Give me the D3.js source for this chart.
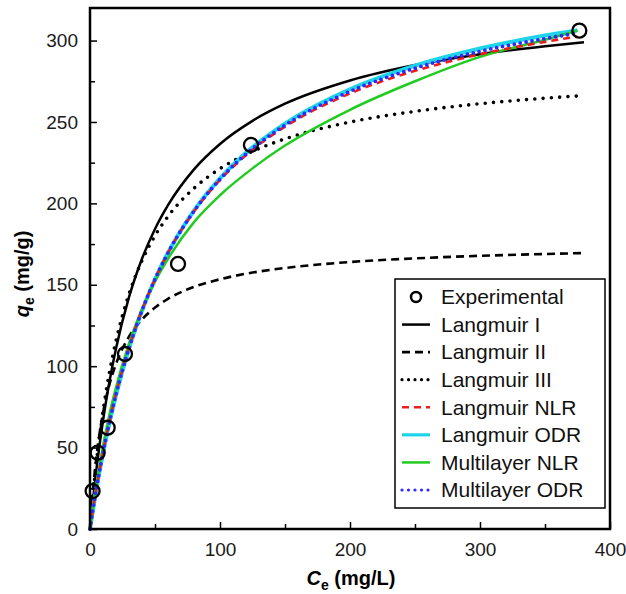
<!DOCTYPE html>
<html>
<head>
<meta charset="utf-8">
<script src="https://cdn.jsdelivr.net/npm/d3@7"></script>
<style>
  html, body { margin: 0; padding: 0; background: #fff; }
  svg { display: block; font-family: "Liberation Sans", Arial, sans-serif; }
</style>
</head>
<body>
<svg id="chart" width="626" height="594"></svg>
<script>
// Experimental equilibrium data
const expCe = [2.0, 5.9, 13.6, 26.9, 67.7, 123.8, 376.4];
const expQe = [23.3, 46.9, 62.2, 107.5, 162.8, 235.9, 306.1];

// Concentration grids at which each fitted isotherm is tabulated
const ceLinear = [0, 2, 5, 10, 15, 20, 30, 40, 50, 60, 80, 100, 125, 150, 200, 250, 300, 350, 380];
const ceFitted = [0, 2, 5, 10, 15, 20, 30, 40, 50, 60, 80, 100, 125, 150, 200, 250, 300, 350, 375];

// Linearised Langmuir fits (tabulated on ceLinear)
const langmuirI   = [0, 15.9, 37.1, 66.6, 90.8, 110.9, 142.4, 166.0, 184.3, 198.9, 220.9, 236.5, 250.7, 261.2, 275.5, 285.0, 291.6, 296.5, 299.0];
const langmuirII  = [0, 21.0, 44.7, 71.2, 88.9, 101.4, 118.1, 128.7, 136.0, 141.4, 148.7, 153.4, 157.5, 160.3, 164.0, 166.2, 167.8, 168.9, 169.5];
const langmuirIII = [0, 18.1, 41.4, 72.3, 96.4, 115.5, 144.3, 164.8, 180.1, 192.0, 209.3, 221.3, 231.9, 239.6, 249.9, 256.5, 261.2, 264.6, 266.2];

// Non-linear / orthogonal distance regression fits (tabulated on ceFitted)
const langmuirNLR   = [0, 10.5, 25.1, 46.9, 66.0, 82.9, 111.3, 134.4, 153.5, 169.6, 195.1, 214.4, 232.9, 247.1, 267.5, 281.4, 291.6, 299.2, 302.5];
const langmuirODR   = [0, 10.3, 24.8, 46.4, 65.4, 82.2, 110.8, 134.0, 153.4, 169.7, 195.6, 215.4, 234.4, 249.0, 270.1, 284.6, 295.1, 303.1, 306.4];
const multilayerNLR = [0, 11.5, 27.5, 51.0, 70.5, 87.0, 114.0, 135.0, 152.0, 166.0, 188.5, 205.0, 221.5, 235.5, 257.5, 275.0, 290.0, 300.5, 306.0];
const multilayerODR = [0, 10.5, 25.0, 46.7, 65.8, 82.6, 111.0, 134.2, 153.4, 169.6, 195.3, 214.8, 233.6, 248.0, 268.8, 283.0, 293.4, 301.2, 304.6];

// Axis ticks
const xTicks = [0, 100, 200, 300, 400];
const xMinorTicks = [50, 150, 250, 350];
const yTicks = [0, 50, 100, 150, 200, 250, 300];
const yMinorTicks = [25, 75, 125, 175, 225, 275];

const series = [
  { name: "Langmuir I",     ce: ceLinear, qe: langmuirI,     color: "#000000", width: 2.5, dash: null,    cap: "butt" },
  { name: "Langmuir II",    ce: ceLinear, qe: langmuirII,    color: "#000000", width: 2.6, dash: "8,5",   cap: "butt" },
  { name: "Langmuir III",   ce: ceLinear, qe: langmuirIII,   color: "#000000", width: 3.6, dash: "0,8.3", cap: "round" },
  { name: "Langmuir ODR",   ce: ceFitted, qe: langmuirODR,   color: "#1fd3e8", width: 4,   dash: null,    cap: "butt" },
  { name: "Multilayer NLR", ce: ceFitted, qe: multilayerNLR, color: "#1fcc1f", width: 2.5, dash: null,    cap: "butt" },
  { name: "Langmuir NLR",   ce: ceFitted, qe: langmuirNLR,   color: "#ee1c1c", width: 2.6, dash: "7,5",   cap: "butt" },
  { name: "Multilayer ODR", ce: ceFitted, qe: multilayerODR, color: "#2b2bff", width: 3.8, dash: "0,6",   cap: "round" }
];

const legendOrder = ["Experimental", "Langmuir I", "Langmuir II", "Langmuir III", "Langmuir NLR", "Langmuir ODR", "Multilayer NLR", "Multilayer ODR"];

const svg = d3.select("#chart");
const plotLeft = 90, plotRight = 610, plotTop = 8, plotBottom = 529;

const x = d3.scaleLinear().domain([0, 400]).range([plotLeft, plotRight]);
const y = d3.scaleLinear().domain([0, 320]).range([plotBottom, plotTop]);

// Fitted curves
const line = d3.line().curve(d3.curveMonotoneX);
const g = svg.append("g");
series.forEach(s => {
  g.append("path")
    .attr("d", line(s.ce.map((c, i) => [x(c), y(s.qe[i])])))
    .attr("fill", "none")
    .attr("stroke", s.color)
    .attr("stroke-width", s.width)
    .attr("stroke-dasharray", s.dash)
    .attr("stroke-linecap", s.cap);
});

// Experimental points
g.selectAll("circle.exp")
  .data(expCe.map((c, i) => [c, expQe[i]]))
  .join("circle")
  .attr("class", "exp")
  .attr("cx", d => x(d[0]))
  .attr("cy", d => y(d[1]))
  .attr("r", 7)
  .attr("fill", "none")
  .attr("stroke", "#000")
  .attr("stroke-width", 2.3);

// Axes with inward ticks
const axisStyle = sel => {
  sel.select(".domain").remove();
  sel.selectAll(".tick line").attr("stroke", "#000").attr("stroke-width", 1.5);
  sel.selectAll(".tick text").attr("fill", "#1a1a1a").style("font-size", "19px");
};

svg.append("g")
  .attr("transform", `translate(0,${plotBottom})`)
  .call(d3.axisBottom(x).tickValues(xTicks).tickSizeInner(-7).tickSizeOuter(0).tickPadding(14).tickFormat(d3.format("d")))
  .call(axisStyle);
svg.append("g")
  .attr("transform", `translate(0,${plotBottom})`)
  .call(d3.axisBottom(x).tickValues(xMinorTicks).tickSizeInner(-5).tickSizeOuter(0).tickFormat(""))
  .call(axisStyle);

svg.append("g")
  .attr("transform", `translate(${plotLeft},0)`)
  .call(d3.axisLeft(y).tickValues(yTicks).tickSizeInner(-7).tickSizeOuter(0).tickPadding(12).tickFormat(d3.format("d")))
  .call(axisStyle);
svg.append("g")
  .attr("transform", `translate(${plotLeft},0)`)
  .call(d3.axisLeft(y).tickValues(yMinorTicks).tickSizeInner(-5).tickSizeOuter(0).tickFormat(""))
  .call(axisStyle);

// Plot frame
svg.append("rect")
  .attr("x", plotLeft).attr("y", plotTop)
  .attr("width", plotRight - plotLeft).attr("height", plotBottom - plotTop)
  .attr("fill", "none").attr("stroke", "#000").attr("stroke-width", 2.5);

// Axis titles
const xt = svg.append("text")
  .attr("x", 351).attr("y", 585)
  .attr("text-anchor", "middle")
  .style("font-size", "20px").style("font-weight", "bold");
xt.append("tspan").text("C").style("font-style", "italic");
xt.append("tspan").text("e").attr("dy", 5).style("font-size", "14px");
xt.append("tspan").text(" (mg/L)").attr("dy", -5);

const yt = svg.append("text")
  .attr("transform", "translate(29,274) rotate(-90)")
  .attr("text-anchor", "middle")
  .style("font-size", "20px").style("font-weight", "bold");
yt.append("tspan").text("q").style("font-style", "italic");
yt.append("tspan").text("e").attr("dy", 5).style("font-size", "14px");
yt.append("tspan").text(" (mg/g)").attr("dy", -5);

// Legend
const lg = svg.append("g");
lg.append("rect")
  .attr("x", 395).attr("y", 279).attr("width", 210).attr("height", 229)
  .attr("fill", "#fff").attr("stroke", "#000").attr("stroke-width", 1.5);

const rowY = d3.scaleLinear().domain([0, legendOrder.length - 1]).range([297, 490]);
legendOrder.forEach((name, i) => {
  const yy = rowY(i);
  if (name === "Experimental") {
    lg.append("circle").attr("cx", 416).attr("cy", yy).attr("r", 5)
      .attr("fill", "none").attr("stroke", "#000").attr("stroke-width", 2.5);
  } else {
    const s = series.find(d => d.name === name);
    lg.append("line")
      .attr("x1", 402).attr("x2", 430).attr("y1", yy).attr("y2", yy)
      .attr("stroke", s.color).attr("stroke-width", Math.min(s.width, 3.2))
      .attr("stroke-dasharray", s.dash === "0,8.3" || s.dash === "0,6" ? "0,6.5" : s.dash)
      .attr("stroke-linecap", s.cap);
  }
  lg.append("text")
    .attr("x", 441).attr("y", yy)
    .attr("dy", "0.35em")
    .style("font-size", "21px")
    .attr("fill", "#111")
    .text(name);
});
</script>
</body>
</html>
